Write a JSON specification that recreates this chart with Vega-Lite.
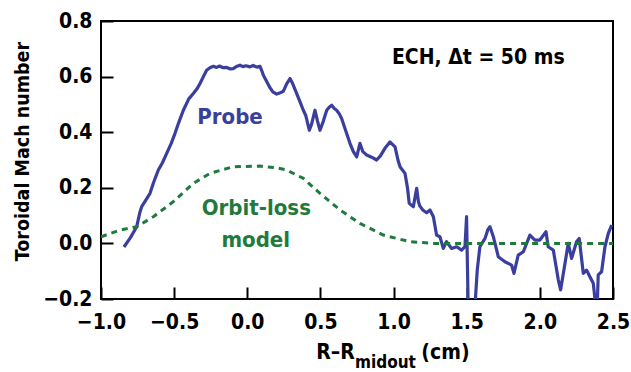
{
  "$schema": "https://vega.github.io/schema/vega-lite/v6.json",
  "width": 512,
  "height": 278,
  "autosize": "none",
  "padding": {"left": 101, "top": 21, "right": 18, "bottom": 73},
  "background": "white",
  "config": {
    "view": {"stroke": "black", "strokeWidth": 2},
    "font": "DejaVu Sans Condensed, Liberation Sans, sans-serif",
    "axis": {
      "grid": false,
      "domain": false,
      "ticks": true,
      "zindex": 1,
      "tickColor": "black",
      "tickOpacity": 1,
      "tickWidth": 2,
      "tickSize": 12,
      "offset": -12,
      "labelFont": "DejaVu Sans Condensed, Liberation Sans, sans-serif",
      "labelFontWeight": "bold",
      "labelFontSize": 21,
      "labelColor": "black",
      "titleFont": "DejaVu Sans Condensed, Liberation Sans, sans-serif",
      "titleFontWeight": "bold",
      "titleColor": "black"
    }
  },
  "datasets": {
    "probe": [
      {"r": -0.843, "mach": -0.013}, {"r": -0.80, "mach": 0.02}, {"r": -0.756, "mach": 0.06},
      {"r": -0.735, "mach": 0.11}, {"r": -0.722, "mach": 0.132}, {"r": -0.70, "mach": 0.15},
      {"r": -0.665, "mach": 0.18}, {"r": -0.64, "mach": 0.22}, {"r": -0.608, "mach": 0.264},
      {"r": -0.58, "mach": 0.29}, {"r": -0.551, "mach": 0.324}, {"r": -0.52, "mach": 0.36},
      {"r": -0.494, "mach": 0.396}, {"r": -0.465, "mach": 0.44}, {"r": -0.437, "mach": 0.479},
      {"r": -0.40, "mach": 0.52}, {"r": -0.369, "mach": 0.539}, {"r": -0.345, "mach": 0.555},
      {"r": -0.323, "mach": 0.575}, {"r": -0.30, "mach": 0.60}, {"r": -0.278, "mach": 0.623},
      {"r": -0.255, "mach": 0.632}, {"r": -0.232, "mach": 0.637}, {"r": -0.21, "mach": 0.633},
      {"r": -0.19, "mach": 0.638}, {"r": -0.165, "mach": 0.632}, {"r": -0.141, "mach": 0.633},
      {"r": -0.12, "mach": 0.628}, {"r": -0.096, "mach": 0.629}, {"r": -0.075, "mach": 0.636},
      {"r": -0.05, "mach": 0.641}, {"r": -0.03, "mach": 0.636}, {"r": -0.01, "mach": 0.639},
      {"r": 0.018, "mach": 0.635}, {"r": 0.04, "mach": 0.64}, {"r": 0.065, "mach": 0.634},
      {"r": 0.087, "mach": 0.637}, {"r": 0.10, "mach": 0.62}, {"r": 0.11, "mach": 0.605},
      {"r": 0.13, "mach": 0.585}, {"r": 0.155, "mach": 0.56}, {"r": 0.175, "mach": 0.545},
      {"r": 0.201, "mach": 0.537}, {"r": 0.225, "mach": 0.542}, {"r": 0.246, "mach": 0.547},
      {"r": 0.27, "mach": 0.575}, {"r": 0.292, "mach": 0.593}, {"r": 0.31, "mach": 0.575},
      {"r": 0.338, "mach": 0.539}, {"r": 0.36, "mach": 0.51}, {"r": 0.383, "mach": 0.479},
      {"r": 0.40, "mach": 0.46}, {"r": 0.424, "mach": 0.407}, {"r": 0.44, "mach": 0.43},
      {"r": 0.463, "mach": 0.479}, {"r": 0.48, "mach": 0.44}, {"r": 0.497, "mach": 0.407},
      {"r": 0.52, "mach": 0.44}, {"r": 0.543, "mach": 0.479}, {"r": 0.56, "mach": 0.49},
      {"r": 0.577, "mach": 0.497}, {"r": 0.595, "mach": 0.485}, {"r": 0.611, "mach": 0.479},
      {"r": 0.63, "mach": 0.465}, {"r": 0.645, "mach": 0.449}, {"r": 0.67, "mach": 0.41},
      {"r": 0.702, "mach": 0.36}, {"r": 0.725, "mach": 0.33}, {"r": 0.748, "mach": 0.311},
      {"r": 0.77, "mach": 0.36}, {"r": 0.79, "mach": 0.33}, {"r": 0.816, "mach": 0.318},
      {"r": 0.85, "mach": 0.31}, {"r": 0.884, "mach": 0.30}, {"r": 0.91, "mach": 0.315},
      {"r": 0.941, "mach": 0.342}, {"r": 0.975, "mach": 0.365}, {"r": 1.01, "mach": 0.347},
      {"r": 1.03, "mach": 0.30}, {"r": 1.044, "mach": 0.276}, {"r": 1.078, "mach": 0.252},
      {"r": 1.095, "mach": 0.20}, {"r": 1.107, "mach": 0.144}, {"r": 1.135, "mach": 0.132},
      {"r": 1.158, "mach": 0.198}, {"r": 1.17, "mach": 0.15}, {"r": 1.18, "mach": 0.134},
      {"r": 1.20, "mach": 0.12}, {"r": 1.226, "mach": 0.11}, {"r": 1.249, "mach": 0.12},
      {"r": 1.272, "mach": 0.096}, {"r": 1.294, "mach": 0.03}, {"r": 1.317, "mach": 0.024},
      {"r": 1.34, "mach": -0.018}, {"r": 1.362, "mach": 0.006}, {"r": 1.397, "mach": -0.018},
      {"r": 1.431, "mach": -0.012}, {"r": 1.465, "mach": -0.024}, {"r": 1.488, "mach": -0.012},
      {"r": 1.499, "mach": 0.096}, {"r": 1.51, "mach": -0.23}, {"r": 1.556, "mach": -0.23},
      {"r": 1.572, "mach": -0.096}, {"r": 1.59, "mach": -0.012}, {"r": 1.625, "mach": 0.018},
      {"r": 1.645, "mach": 0.05}, {"r": 1.659, "mach": 0.06}, {"r": 1.682, "mach": 0.024},
      {"r": 1.716, "mach": -0.048}, {"r": 1.761, "mach": -0.066}, {"r": 1.807, "mach": -0.078},
      {"r": 1.823, "mach": -0.108}, {"r": 1.852, "mach": -0.042}, {"r": 1.887, "mach": -0.03},
      {"r": 1.932, "mach": 0.03}, {"r": 1.966, "mach": 0.012}, {"r": 2.0, "mach": 0.012},
      {"r": 2.042, "mach": 0.042}, {"r": 2.057, "mach": -0.012}, {"r": 2.092, "mach": -0.024},
      {"r": 2.126, "mach": -0.131}, {"r": 2.142, "mach": -0.167}, {"r": 2.172, "mach": -0.071},
      {"r": 2.194, "mach": 0.0}, {"r": 2.217, "mach": -0.054}, {"r": 2.251, "mach": 0.006},
      {"r": 2.269, "mach": 0.018}, {"r": 2.297, "mach": -0.108}, {"r": 2.319, "mach": -0.096},
      {"r": 2.342, "mach": -0.12}, {"r": 2.365, "mach": -0.143}, {"r": 2.383, "mach": -0.23},
      {"r": 2.392, "mach": -0.23}, {"r": 2.399, "mach": -0.113}, {"r": 2.422, "mach": -0.102},
      {"r": 2.445, "mach": -0.012}, {"r": 2.468, "mach": 0.036}, {"r": 2.491, "mach": 0.066}
    ],
    "model": [
      {"r": -1.0, "mach": 0.024}, {"r": -0.87, "mach": 0.048}, {"r": -0.756, "mach": 0.06},
      {"r": -0.642, "mach": 0.096}, {"r": -0.506, "mach": 0.15}, {"r": -0.369, "mach": 0.216},
      {"r": -0.255, "mach": 0.252}, {"r": -0.096, "mach": 0.276}, {"r": 0.087, "mach": 0.278},
      {"r": 0.2, "mach": 0.272}, {"r": 0.269, "mach": 0.264}, {"r": 0.383, "mach": 0.234},
      {"r": 0.497, "mach": 0.18}, {"r": 0.634, "mach": 0.12}, {"r": 0.77, "mach": 0.072},
      {"r": 0.93, "mach": 0.03}, {"r": 1.112, "mach": 0.006}, {"r": 1.272, "mach": 0.0},
      {"r": 1.5, "mach": 0.0}, {"r": 2.0, "mach": 0.0}, {"r": 2.5, "mach": 0.0}
    ],
    "labels": [
      {"key": "probe", "r": -0.118, "mach": 0.431, "text": "Probe"},
      {"key": "model", "r": 0.062, "mach": 0.102, "text": "Orbit-loss"},
      {"key": "model", "r": 0.058, "mach": -0.012, "text": "model"},
      {"key": "note", "r": 1.579, "mach": 0.647, "text": "ECH, Δt = 50 ms"}
    ],
    "xtitle": [
      {"part": "main", "r": 0.735, "mach": -0.415, "text": "R–R"},
      {"part": "sub", "r": 0.737, "mach": -0.447, "text": "midout"},
      {"part": "unit", "r": 1.19, "mach": -0.415, "text": "(cm)"}
    ],
    "bottomTicks": [{"r": -0.5}, {"r": 0.0}, {"r": 0.5}, {"r": 1.0}, {"r": 1.5}, {"r": 2.0}],
    "topTicks": [{"r": -0.5}, {"r": 0.0}, {"r": 0.5}, {"r": 1.0}, {"r": 2.0}],
    "sideTicks": [{"mach": 0.0}, {"mach": 0.2}, {"mach": 0.4}, {"mach": 0.6}]
  },
  "encoding": {
    "x": {"field": "r", "type": "quantitative", "scale": {"domain": [-1.0, 2.5], "nice": false, "zero": false}},
    "y": {"field": "mach", "type": "quantitative", "scale": {"domain": [-0.2, 0.8], "nice": false, "zero": false}}
  },
  "layer": [
    {
      "data": {"name": "probe"},
      "mark": {"type": "line", "color": "#3a3f9e", "strokeWidth": 3.2, "clip": true, "strokeJoin": "round"},
      "encoding": {
        "x": {"field": "r", "type": "quantitative", "axis": {"orient": "bottom", "values": [-1.0, -0.5, 0.0, 0.5, 1.0, 1.5, 2.0, 2.5], "format": ".1f", "title": null, "labelPadding": 12, "labelFlush": false}},
        "y": {"field": "mach", "type": "quantitative", "axis": {"orient": "left", "values": [-0.2, 0.0, 0.2, 0.4, 0.6, 0.8], "format": ".1f", "title": "Toroidal Mach number", "titleFontSize": 19.5, "titleX": -91, "titleY": 130, "titleAngle": -90, "titleAlign": "center", "titleBaseline": "middle", "labelPadding": 9, "labelFlush": false}}
      }
    },
    {
      "data": {"name": "model"},
      "mark": {"type": "line", "color": "#1f7a3c", "strokeWidth": 3, "strokeDash": [6, 5], "clip": true},
      "encoding": {
        "x": {"field": "r", "type": "quantitative", "axis": null},
        "y": {"field": "mach", "type": "quantitative", "axis": null}
      }
    },
    {
      "data": {"name": "bottomTicks"},
      "mark": {"type": "rule", "color": "black", "strokeWidth": 2},
      "encoding": {
        "x": {"field": "r", "type": "quantitative", "axis": null},
        "y": {"datum": -0.2, "type": "quantitative", "axis": null},
        "y2": {"datum": -0.157}
      }
    },
    {
      "data": {"name": "topTicks"},
      "mark": {"type": "rule", "color": "black", "strokeWidth": 2},
      "encoding": {
        "x": {"field": "r", "type": "quantitative", "axis": null},
        "y": {"datum": 0.8, "type": "quantitative", "axis": null},
        "y2": {"datum": 0.757}
      }
    },
    {
      "data": {"name": "sideTicks"},
      "mark": {"type": "rule", "color": "black", "strokeWidth": 2},
      "encoding": {
        "y": {"field": "mach", "type": "quantitative", "axis": null},
        "x": {"datum": -1.0, "type": "quantitative", "axis": null},
        "x2": {"datum": -0.918}
      }
    },
    {
      "data": {"name": "sideTicks"},
      "mark": {"type": "rule", "color": "black", "strokeWidth": 2},
      "encoding": {
        "y": {"field": "mach", "type": "quantitative", "axis": null},
        "x": {"datum": 2.5, "type": "quantitative", "axis": null},
        "x2": {"datum": 2.418}
      }
    },
    {
      "data": {"name": "labels"},
      "transform": [{"filter": "datum.key === 'probe'"}],
      "mark": {"type": "text", "color": "#3a3f9e", "font": "DejaVu Sans Condensed, Liberation Sans, sans-serif", "fontWeight": "bold", "fontSize": 22, "align": "center", "baseline": "alphabetic"},
      "encoding": {"text": {"field": "text"}, "x": {"field": "r", "type": "quantitative", "axis": null}, "y": {"field": "mach", "type": "quantitative", "axis": null}}
    },
    {
      "data": {"name": "labels"},
      "transform": [{"filter": "datum.key === 'model'"}],
      "mark": {"type": "text", "color": "#1f7a3c", "font": "DejaVu Sans Condensed, Liberation Sans, sans-serif", "fontWeight": "bold", "fontSize": 22, "align": "center", "baseline": "alphabetic"},
      "encoding": {"text": {"field": "text"}, "x": {"field": "r", "type": "quantitative", "axis": null}, "y": {"field": "mach", "type": "quantitative", "axis": null}}
    },
    {
      "data": {"name": "labels"},
      "transform": [{"filter": "datum.key === 'note'"}],
      "mark": {"type": "text", "color": "black", "font": "DejaVu Sans Condensed, Liberation Sans, sans-serif", "fontWeight": "bold", "fontSize": 21, "align": "center", "baseline": "alphabetic"},
      "encoding": {"text": {"field": "text"}, "x": {"field": "r", "type": "quantitative", "axis": null}, "y": {"field": "mach", "type": "quantitative", "axis": null}}
    },
    {
      "data": {"name": "xtitle"},
      "transform": [{"filter": "datum.part === 'main'"}],
      "mark": {"type": "text", "color": "black", "font": "DejaVu Sans Condensed, Liberation Sans, sans-serif", "fontWeight": "bold", "fontSize": 21, "align": "right", "baseline": "alphabetic"},
      "encoding": {"text": {"field": "text"}, "x": {"field": "r", "type": "quantitative", "axis": null}, "y": {"field": "mach", "type": "quantitative", "axis": null}}
    },
    {
      "data": {"name": "xtitle"},
      "transform": [{"filter": "datum.part === 'sub'"}],
      "mark": {"type": "text", "color": "black", "font": "DejaVu Sans Condensed, Liberation Sans, sans-serif", "fontWeight": "bold", "fontSize": 17, "align": "left", "baseline": "alphabetic"},
      "encoding": {"text": {"field": "text"}, "x": {"field": "r", "type": "quantitative", "axis": null}, "y": {"field": "mach", "type": "quantitative", "axis": null}}
    },
    {
      "data": {"name": "xtitle"},
      "transform": [{"filter": "datum.part === 'unit'"}],
      "mark": {"type": "text", "color": "black", "font": "DejaVu Sans Condensed, Liberation Sans, sans-serif", "fontWeight": "bold", "fontSize": 21, "align": "left", "baseline": "alphabetic"},
      "encoding": {"text": {"field": "text"}, "x": {"field": "r", "type": "quantitative", "axis": null}, "y": {"field": "mach", "type": "quantitative", "axis": null}}
    }
  ],
  "resolve": {"axis": {"x": "independent", "y": "independent"}}
}
